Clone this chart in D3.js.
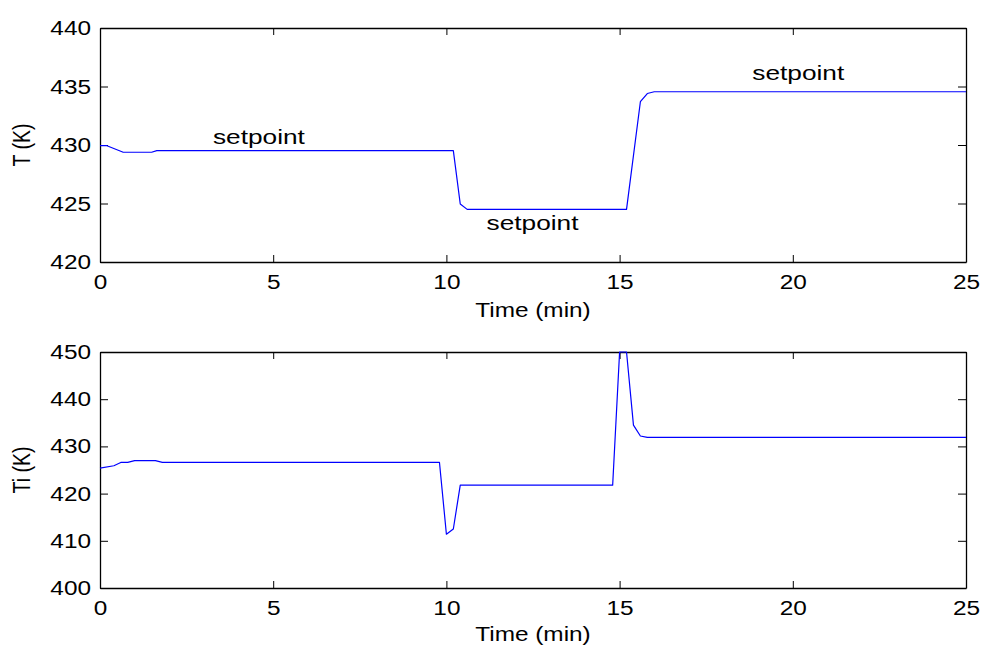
<!DOCTYPE html>
<html>
<head>
<meta charset="utf-8">
<script src="https://cdn.jsdelivr.net/npm/d3@7"></script>
<style>
  html, body { margin: 0; padding: 0; background: #ffffff; }
  svg { display: block; }
  text { font-family: Arial, "Liberation Sans", sans-serif; fill: #000; }
</style>
</head>
<body>
<svg id="fig" width="981" height="646"></svg>
<script>
// Reactor temperature response (top) and jacket inlet temperature (bottom)
const timeT   = [0, 0.2, 0.67, 1.0, 1.49, 1.64, 10.2, 10.4, 10.6, 15.2, 15.6, 15.8, 16.0, 25];
const valuesT = [429.94, 429.94, 429.38, 429.38, 429.38, 429.52, 429.52, 424.96, 424.5, 424.5, 433.7, 434.4, 434.55, 434.55];

const timeTi   = [0, 0.4, 0.6, 0.8, 1.0, 1.6, 1.8, 9.8, 10.0, 10.2, 10.4, 14.8, 15.0, 15.2, 15.4, 15.6, 15.8, 25];
const valuesTi = [425.4, 425.9, 426.6, 426.6, 427.0, 427.0, 426.6, 426.6, 411.4, 412.5, 421.8, 421.8, 450, 450, 434.5, 432.2, 431.9, 431.9];

const xTicks   = [0, 5, 10, 15, 20, 25];
const yTicksT  = [420, 425, 430, 435, 440];
const yTicksTi = [400, 410, 420, 430, 440, 450];

// text annotations on the top panel: [time, temperature, label]
const setpointLabels = [
  [3.26, 430.1, "setpoint"],
  [11.16, 422.7, "setpoint"],
  [18.83, 435.55, "setpoint"]
];

const SX = 1.25;          // horizontal stretch of the figure's lettering
const FONT = 19.5;

const svg = d3.select("#fig");
const plotLeft = 100, plotRight = 966;

function panel(cfg) {
  const x = d3.scaleLinear().domain([0, 25]).range([plotLeft, plotRight]);
  const y = d3.scaleLinear().domain(cfg.yDomain).range([cfg.bottom, cfg.top]);
  const g = svg.append("g");

  // frame with inward ticks on all four sides
  const axB = d3.axisBottom(x).tickValues(xTicks).tickSizeInner(-7).tickSizeOuter(0).tickPadding(0).tickFormat(d3.format("d"));
  const axT = d3.axisTop(x).tickValues(xTicks).tickSizeInner(-7).tickSizeOuter(0).tickFormat("");
  const axL = d3.axisLeft(y).tickValues(cfg.yTicks).tickSizeInner(-8).tickSizeOuter(0).tickPadding(0).tickFormat(d3.format("d"));
  const axR = d3.axisRight(y).tickValues(cfg.yTicks).tickSizeInner(-8).tickSizeOuter(0).tickFormat("");

  const gb = g.append("g").attr("transform", `translate(0,${cfg.bottom})`).call(axB);
  const gt = g.append("g").attr("transform", `translate(0,${cfg.top})`).call(axT);
  const gl = g.append("g").attr("transform", `translate(${plotLeft},0)`).call(axL);
  const gr = g.append("g").attr("transform", `translate(${plotRight},0)`).call(axR);

  [gb, gt, gl, gr].forEach(a => {
    a.select(".domain").attr("stroke", "#000").attr("stroke-width", 1.3);
    a.selectAll(".tick line").attr("stroke", "#000").attr("stroke-width", 1);
  });

  gb.selectAll(".tick text")
    .attr("y", null).attr("dy", null)
    .attr("transform", `translate(0,26.5) scale(${SX},1)`)
    .attr("font-size", FONT).attr("font-family", "Arial, 'Liberation Sans', sans-serif")
    .attr("text-anchor", "middle").attr("fill", "#000");
  gl.selectAll(".tick text")
    .attr("x", null).attr("dy", null)
    .attr("transform", `translate(-9,6.5) scale(${SX},1)`)
    .attr("font-size", FONT).attr("font-family", "Arial, 'Liberation Sans', sans-serif")
    .attr("text-anchor", "end").attr("fill", "#000");

  // axis titles
  g.append("text")
    .attr("transform", `translate(${(plotLeft + plotRight) / 2},${cfg.bottom + cfg.xlabelOffset}) scale(${SX},1)`)
    .attr("text-anchor", "middle").attr("font-size", FONT)
    .text("Time (min)");
  g.append("text")
    .attr("transform", `translate(30,${(cfg.top + cfg.bottom) / 2}) scale(${SX},1) rotate(-90)`)
    .attr("text-anchor", "middle").attr("font-size", FONT)
    .text(cfg.ylabel);

  // response curve
  const line = d3.line().x(d => x(d[0])).y(d => y(d[1]));
  g.append("path")
    .datum(cfg.t.map((t, i) => [t, cfg.v[i]]))
    .attr("d", line)
    .attr("fill", "none")
    .attr("stroke", "#0000ff")
    .attr("stroke-width", 1.2)
    .attr("stroke-linejoin", "round");

  return { x, y, g };
}

const upper = panel({
  top: 28, bottom: 262, yDomain: [420, 440], yTicks: yTicksT,
  t: timeT, v: valuesT, ylabel: "T (K)", xlabelOffset: 54.5
});

panel({
  top: 352, bottom: 588, yDomain: [400, 450], yTicks: yTicksTi,
  t: timeTi, v: valuesTi, ylabel: "Ti (K)", xlabelOffset: 52.5
});

upper.g.selectAll("text.sp")
  .data(setpointLabels)
  .enter().append("text")
  .attr("class", "sp")
  .attr("transform", d => `translate(${upper.x(d[0])},${upper.y(d[1])}) scale(${SX},1)`)
  .attr("font-size", 21)
  .text(d => d[2]);
</script>
</body>
</html>
